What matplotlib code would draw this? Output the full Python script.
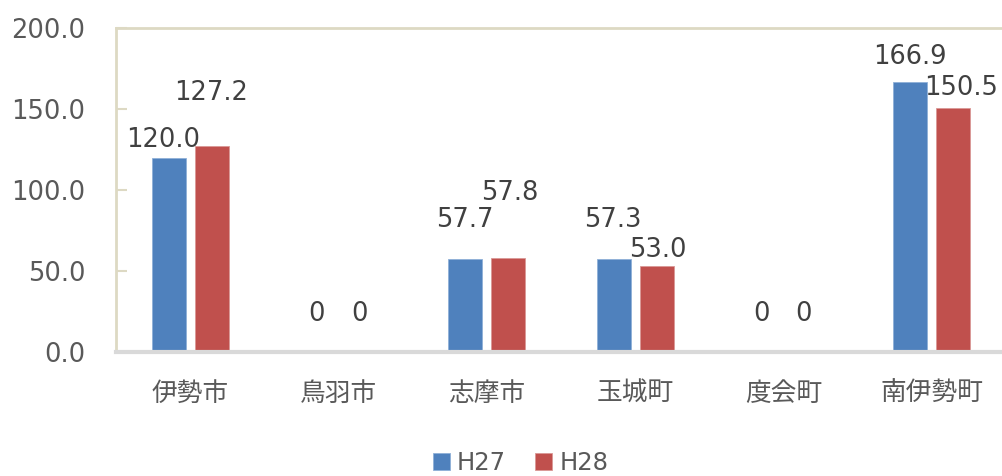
import matplotlib
matplotlib.use("Agg")
import matplotlib.pyplot as plt
import numpy as np

plt.rcParams['font.family'] = ['DejaVu Sans', 'Noto Sans CJK JP']

categories = ['伊勢市', '鳥羽市', '志摩市', '玉城町', '度会町', '南伊勢町']
h27 = [120.0, 0, 57.7, 57.3, 0, 166.9]
h28 = [127.2, 0, 57.8, 53.0, 0, 150.5]
h27_text = ['120.0', '0', '57.7', '57.3', '0', '166.9']
h28_text = ['127.2', '0', '57.8', '53.0', '0', '150.5']
series_names = ['H27', 'H28']
yticks = [0, 50, 100, 150, 200]
ytick_labels = ['0.0', '50.0', '100.0', '150.0', '200.0']

# label positions (data coords), as placed in the original chart
h27_label_x = [-0.183, 0.849, 1.853, 2.851, 3.849, 4.854]
h27_label_y = [130.9, 23.5, 81.5, 81.5, 23.5, 182.1]
h28_label_x = [0.141, 1.139, 2.157, 3.155, 4.132, 5.198]
h28_label_y = [159.9, 23.5, 98.1, 63.0, 23.5, 163.0]

blue = '#4F81BD'
red = '#C0504D'
txt = '#404040'
tickc = '#595959'
fs = 18.5

fig = plt.figure(figsize=(10.03, 4.76), dpi=100)
ax = fig.add_axes([116/1003, 1-352/476, 890/1003, (352-28)/476])

x = np.arange(len(categories))
off = 0.145
w = 0.23
b1 = ax.bar(x - off, h27, w, color=blue, edgecolor='#8FB0D8', linewidth=0.6, label=series_names[0], zorder=2)
b2 = ax.bar(x + off, h28, w, color=red, edgecolor='#DA9896', linewidth=0.6, label=series_names[1], zorder=2)

for i in range(len(categories)):
    ax.text(h27_label_x[i], h27_label_y[i], h27_text[i], ha='center', va='center',
            fontsize=fs, color=txt)
    ax.text(h28_label_x[i], h28_label_y[i], h28_text[i], ha='center', va='center',
            fontsize=fs, color=txt)

ax.set_xlim(-0.5, len(categories) - 0.5)
ax.set_ylim(0, 200)
ax.set_yticks(yticks)
ax.set_yticklabels(ytick_labels)
ax.set_xticks(x)
ax.set_xticklabels(categories)

ax.tick_params(axis='y', direction='in', length=8, width=1.5, color='#DDD9C3',
               labelsize=fs, labelcolor=tickc, pad=22)
ax.tick_params(axis='x', length=0, labelsize=fs, labelcolor=tickc, pad=21)
for lab in ax.get_xticklabels():
    lab.set_family(['Noto Sans CJK JP'])

for s in ['left', 'top']:
    ax.spines[s].set_color('#DDD9C3')
    ax.spines[s].set_linewidth(2)
ax.spines['right'].set_visible(False)
ax.spines['bottom'].set_color('#D9D9D9')
ax.spines['bottom'].set_linewidth(3)

fig.legend(handles=[b1, b2], labels=series_names, loc='center',
           bbox_to_anchor=(0.519, 0.028), ncol=2, frameon=False,
           fontsize=17.5, labelcolor=tickc, handlelength=0.7, handleheight=0.7,
           handletextpad=0.3, columnspacing=1.2, borderpad=0.1)

fig.savefig('out.png', dpi=100)
